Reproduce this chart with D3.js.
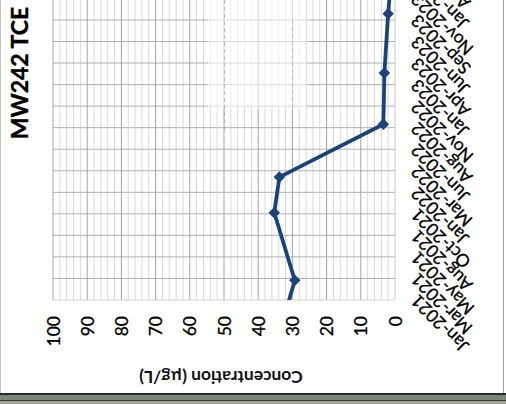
<!DOCTYPE html>
<html><head><meta charset="utf-8">
<script src="https://cdn.jsdelivr.net/npm/d3@7"></script>
<style>html,body{margin:0;padding:0;background:#fff;overflow:hidden}</style>
</head><body><svg id="c" width="506" height="404"></svg>
<script>
// ---- data ----
const chartTitle = "MW242 TCE";
const yAxisTitle = "Concentration (µg/L)";
const sampleDates = ["2020-09-15","2021-03-11","2021-11-01","2022-03-05","2022-09-05","2023-03-02","2023-09-25","2024-03-20"];
const tceValues   = [33.6, 29.3, 35.3, 33.8, 3.4, 3.1, 2.0, 0.8];
const tickLabels  = ["Jan-2021","Mar-2021","May-2021","Aug-2021","Oct-2021","Jan-2022","Mar-2022","Jun-2022","Aug-2022","Nov-2022","Jan-2023","Apr-2023","Jun-2023","Sep-2023","Nov-2023","Jan-2024","Apr-2024","Jun-2024","Sep-2024"];
const yTickValues = [0,10,20,30,40,50,60,70,80,90,100];
const axisStart = "2021-01-01";
const tickStepDays = 75;

// ---- layout (chart drawn unrotated, then turned -90deg) ----
const svg = d3.select("#c");
const FONT = "Lato, 'Open Sans', sans-serif";
const T = 400;             // rotation offset
const plotX0 = 100;        // left edge of plot (unrotated)
const pxPerTick = 21.54;
const nTicks = tickLabels.length - 1;
const plotTop = 53, plotBottom = 395;

const parse = d3.utcParse("%Y-%m-%d");
const start = parse(axisStart);
const tickDates = tickLabels.map((_, i) => d3.utcDay.offset(start, i * tickStepDays));
const x = d3.scaleUtc().domain([start, tickDates[nTicks]]).range([plotX0, plotX0 + nTicks * pxPerTick]);
const y = d3.scaleLinear().domain([0, 100]).range([plotBottom, plotTop]);
const plotX1 = x.range()[1];

svg.append("rect").attr("width", 506).attr("height", 404).attr("fill", "#fff");

const g = svg.append("g").attr("transform", `translate(0,${T}) rotate(-90)`);

svg.append("defs").append("clipPath").attr("id", "plotclip")
  .append("rect").attr("x", plotX0).attr("y", plotTop).attr("width", plotX1 - plotX0).attr("height", plotBottom - plotTop);

// minor y gridlines
const minor = d3.range(0, 101, 2).filter(v => v % 10 !== 0);
g.append("g").selectAll("line").data(minor).join("line")
  .attr("x1", plotX0).attr("x2", plotX1).attr("y1", d => y(d)).attr("y2", d => y(d))
  .attr("stroke", "#d8d8d8").attr("stroke-width", 1);
// x gridlines
g.append("g").selectAll("line").data(tickDates.slice(1)).join("line")
  .attr("x1", d => x(d)).attr("x2", d => x(d)).attr("y1", plotTop).attr("y2", plotBottom)
  .attr("stroke", "#b0b0b0").attr("stroke-width", 1);
// major y gridlines
g.append("g").selectAll("line").data(yTickValues.filter(v => v > 0)).join("line")
  .attr("x1", plotX0).attr("x2", plotX1).attr("y1", d => y(d)).attr("y2", d => y(d))
  .attr("stroke", "#a3a3a3").attr("stroke-width", 1);
// axis lines
g.append("line").attr("x1", plotX0).attr("x2", plotX0).attr("y1", plotTop).attr("y2", plotBottom)
  .attr("stroke", "#d0d0d0").attr("stroke-width", 1.2);
g.append("line").attr("x1", plotX0).attr("x2", plotX1).attr("y1", plotBottom).attr("y2", plotBottom)
  .attr("stroke", "#d0d0d0").attr("stroke-width", 1.2);

// faded overlay artifact (image coordinates)
const art = svg.append("g");
art.append("rect").attr("x", 208).attr("y", 0).attr("width", 98).attr("height", 109)
  .attr("fill", "#fff").attr("opacity", 0.55);
art.append("line").attr("x1", 224.5).attr("x2", 224.5).attr("y1", 0).attr("y2", 130)
  .attr("stroke", "#9a9a9a").attr("stroke-dasharray", "4,3").attr("opacity", 0.6);
art.append("line").attr("x1", 292.7).attr("x2", 292.7).attr("y1", 20).attr("y2", 109)
  .attr("stroke", "#9a9a9a").attr("stroke-dasharray", "4,3").attr("opacity", 0.5);
art.append("line").attr("x1", 306.5).attr("x2", 306.5).attr("y1", 0).attr("y2", 109)
  .attr("stroke", "#e0e0e0").attr("opacity", 0.8);

const gd = svg.append("g").attr("transform", `translate(0,${T}) rotate(-90)`);

// data line + markers
const pts = sampleDates.map((d, i) => ({ date: parse(d), value: tceValues[i] }));
const dataClip = gd.append("g").attr("clip-path", "url(#plotclip)");
dataClip.append("path").datum(pts)
  .attr("fill", "none").attr("stroke", "#1a4479").attr("stroke-width", 3.8).attr("stroke-linejoin", "round")
  .attr("d", d3.line().x(d => x(d.date)).y(d => y(d.value)));
dataClip.selectAll("path.m").data(pts).join("path").attr("class", "m")
  .attr("transform", d => `translate(${x(d.date)},${y(d.value)}) rotate(45)`)
  .attr("d", d3.symbol(d3.symbolSquare).size(66)())
  .attr("fill", "#1a4479");

// y tick labels
gd.append("g").selectAll("text").data(yTickValues).join("text")
  .attr("x", plotX0 - 16).attr("y", d => y(d))
  .attr("text-anchor", "end").attr("dominant-baseline", "central")
  .attr("font-family", FONT).attr("font-size", 17.5).attr("fill", "#000")
  .attr("stroke", "#000").attr("stroke-width", 0.3)
  .text(d => d);

// x tick labels
gd.append("g").selectAll("text").data(tickLabels).join("text")
  .attr("transform", (d, i) => `translate(${x(tickDates[i]) + 2},${plotBottom + 19}) rotate(-45)`)
  .attr("text-anchor", "end").attr("dominant-baseline", "central")
  .attr("font-family", FONT).attr("font-size", 17.5).attr("fill", "#000")
  .attr("stroke", "#000").attr("stroke-width", 0.3)
  .text(d => d);

// title
gd.append("text").attr("x", 327).attr("y", 19)
  .attr("text-anchor", "middle").attr("dominant-baseline", "central")
  .attr("font-family", FONT).attr("font-weight", "bold").attr("font-size", 23).attr("fill", "#000")
  .attr("stroke", "#000").attr("stroke-width", 0.4)
  .text(chartTitle);

// y axis title
gd.append("text").attr("transform", `translate(23,${(plotTop + plotBottom) / 2 - 3}) rotate(-90)`)
  .attr("text-anchor", "middle").attr("dominant-baseline", "central")
  .attr("font-family", FONT).attr("font-weight", "bold").attr("font-size", 17.5).attr("fill", "#111")
  .text(yAxisTitle);

// frame (image coordinates)
svg.append("line").attr("x1", 0.5).attr("x2", 0.5).attr("y1", 0).attr("y2", 393).attr("stroke", "#c4c4c4");
svg.append("line").attr("x1", 503.5).attr("x2", 503.5).attr("y1", 0).attr("y2", 393).attr("stroke", "#a0a0a0");
svg.append("rect").attr("x", 0).attr("y", 393).attr("width", 506).attr("height", 2).attr("fill", "#2a2a2a");
svg.append("rect").attr("x", 0).attr("y", 395).attr("width", 506).attr("height", 5).attr("fill", "#7e8576");
svg.append("rect").attr("x", 0).attr("y", 400).attr("width", 506).attr("height", 1.5).attr("fill", "#3a3a3a");
svg.append("rect").attr("x", 0).attr("y", 401.5).attr("width", 506).attr("height", 2.5).attr("fill", "#a3a89b");
</script></body></html>
